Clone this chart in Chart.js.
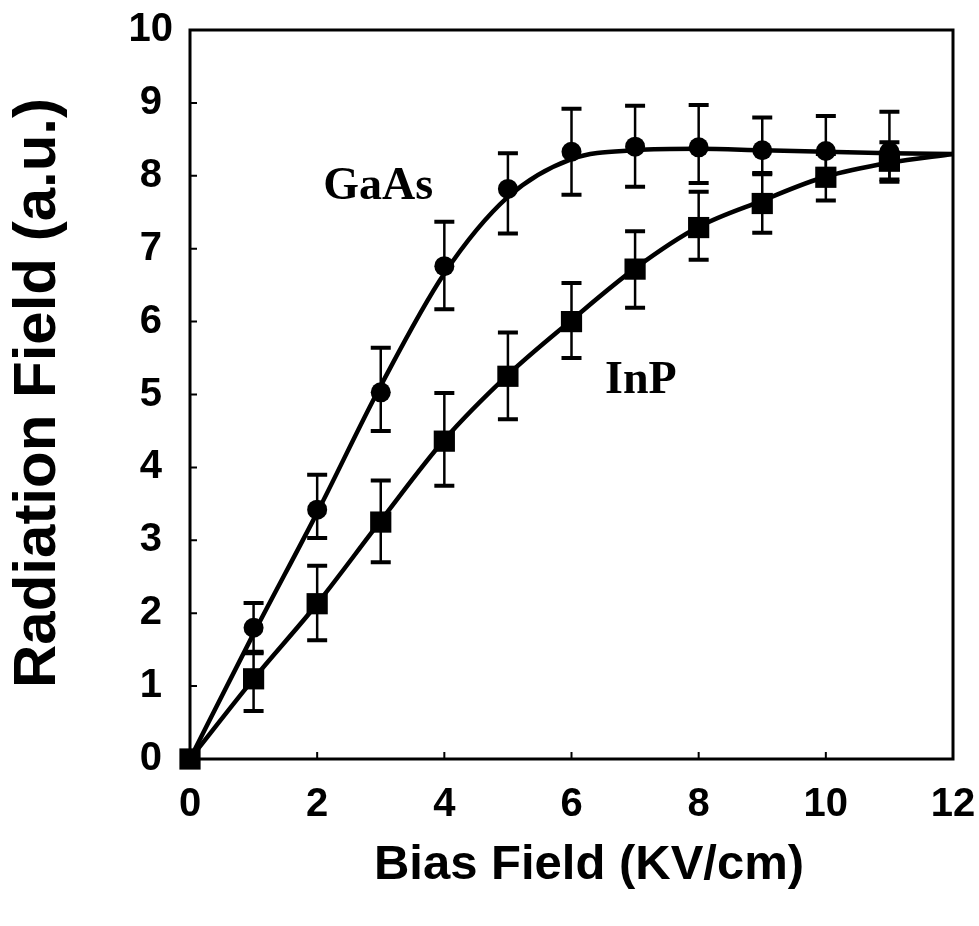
<!DOCTYPE html>
<html>
<head>
<meta charset="utf-8">
<script src="https://cdn.jsdelivr.net/npm/chart.js@4"></script>
<style>
  html, body { margin: 0; padding: 0; background: #fff; }
  #wrap { width: 979px; height: 926px; }
</style>
</head>
<body>
<div id="wrap"><canvas id="myChart"></canvas></div>
<script>
  // measured points (bias field, KV/cm)
  const biasX = [0, 1, 2, 3, 4, 5, 6, 7, 8, 9, 10, 11];

  const gaasY  = [0, 1.80, 3.42, 5.03, 6.76, 7.82, 8.33, 8.40, 8.39, 8.35, 8.34, 8.33];
  const gaasHi = [null, 2.14, 3.90, 5.64, 7.37, 8.31, 8.92, 8.96, 8.97, 8.80, 8.82, 8.88];
  const gaasLo = [null, 1.45, 3.03, 4.50, 6.17, 7.21, 7.74, 7.85, 7.90, 8.04, 7.98, 7.92];

  const inpY  = [0, 1.10, 2.13, 3.25, 4.36, 5.25, 6.00, 6.72, 7.29, 7.62, 7.98, 8.20];
  const inpHi = [null, 1.47, 2.65, 3.82, 5.02, 5.85, 6.53, 7.24, 7.78, 8.02, 8.30, 8.46];
  const inpLo = [null, 0.66, 1.63, 2.70, 3.75, 4.66, 5.50, 6.19, 6.85, 7.22, 7.66, 7.95];

  // fitted curves
  const fitX    = [0, 1, 2, 3, 4, 5, 6, 7, 8, 9, 10, 11, 12];
  const gaasFit = [0, 1.72, 3.38, 5.12, 6.66, 7.71, 8.23, 8.35, 8.37, 8.35, 8.33, 8.31, 8.30];
  const inpFit  = [0, 1.10, 2.13, 3.27, 4.38, 5.27, 6.02, 6.73, 7.30, 7.66, 7.99, 8.18, 8.30];

  const xTicks = [0, 2, 4, 6, 8, 10, 12];
  const yTicks = [0, 1, 2, 3, 4, 5, 6, 7, 8, 9, 10];

  const curveLabels = [
    { text: 'GaAs', x: 2.96, y: 7.85 },
    { text: 'InP', x: 7.09, y: 5.19 }
  ];
  const xTitle = 'Bias Field (KV/cm)';
  const yTitle = 'Radiation Field (a.u.)';

  const sans = '"Liberation Sans", Arial, sans-serif';
  const pts = (xs, ys) => xs.map((x, i) => ({ x: x, y: ys[i] }));

  const errorBars = {
    id: 'errorBars',
    afterDatasetsDraw(chart) {
      const { ctx, scales: { x, y } } = chart;
      ctx.save();
      ctx.strokeStyle = '#000';
      const sets = [[gaasHi, gaasLo], [inpHi, inpLo]];
      sets.forEach(([hi, lo]) => {
        biasX.forEach((bx, i) => {
          if (hi[i] == null) return;
          const px = x.getPixelForValue(bx);
          const yh = y.getPixelForValue(hi[i]);
          const yl = y.getPixelForValue(lo[i]);
          ctx.lineWidth = 2.5;
          ctx.beginPath();
          ctx.moveTo(px, yh); ctx.lineTo(px, yl);
          ctx.stroke();
          ctx.lineWidth = 4;
          ctx.beginPath();
          ctx.moveTo(px - 10, yh); ctx.lineTo(px + 10, yh);
          ctx.moveTo(px - 10, yl); ctx.lineTo(px + 10, yl);
          ctx.stroke();
        });
      });
      ctx.restore();
    }
  };

  const frameAndText = {
    id: 'frameAndText',
    afterDraw(chart) {
      const { ctx, chartArea: a, scales: { x, y } } = chart;
      ctx.save();
      ctx.strokeStyle = '#000';
      ctx.lineWidth = 3;
      ctx.strokeRect(a.left, a.top, a.right - a.left, a.bottom - a.top);
      // inward ticks
      ctx.lineWidth = 2;
      ctx.beginPath();
      yTicks.slice(1, -1).forEach(v => {
        const py = y.getPixelForValue(v);
        ctx.moveTo(a.left, py); ctx.lineTo(a.left + 7, py);
      });
      xTicks.slice(1, -1).forEach(v => {
        const px = x.getPixelForValue(v);
        ctx.moveTo(px, a.bottom); ctx.lineTo(px, a.bottom - 7);
      });
      ctx.stroke();
      ctx.fillStyle = '#000';
      ctx.textAlign = 'center';
      ctx.textBaseline = 'middle';
      ctx.font = 'bold 46px "Liberation Serif", "Times New Roman", serif';
      curveLabels.forEach(l => {
        ctx.fillText(l.text, x.getPixelForValue(l.x), y.getPixelForValue(l.y));
      });
      // axis titles
      ctx.font = 'bold 49px ' + sans;
      ctx.fillText(xTitle, 589, 865);
      ctx.translate(38, 393);
      ctx.rotate(-Math.PI / 2);
      ctx.font = 'bold 60px ' + sans;
      ctx.fillText(yTitle, 0, 0);
      ctx.restore();
    }
  };

  const data1 = {
    datasets: [
      {
        label: 'GaAs fit',
        data: pts(fitX, gaasFit),
        borderColor: '#000',
        borderWidth: 4.5,
        pointRadius: 0,
        cubicInterpolationMode: 'monotone'
      },
      {
        label: 'InP fit',
        data: pts(fitX, inpFit),
        borderColor: '#000',
        borderWidth: 4.5,
        pointRadius: 0,
        cubicInterpolationMode: 'monotone'
      },
      {
        label: 'GaAs',
        data: pts(biasX, gaasY),
        showLine: false,
        pointStyle: 'circle',
        pointRadius: 10,
        backgroundColor: '#000',
        borderColor: '#000',
        borderWidth: 0
      },
      {
        label: 'InP',
        data: pts(biasX, inpY),
        showLine: false,
        pointStyle: 'rect',
        pointRadius: 15,
        backgroundColor: '#000',
        borderColor: '#000',
        borderWidth: 0
      }
    ]
  };

  const config = {
    type: 'line',
    data: data1,
    plugins: [errorBars, frameAndText],
    options: {
      responsive: true,
      maintainAspectRatio: false,
      animation: false,
      clip: false,
      layout: { padding: { top: 30, right: 26, left: 0, bottom: 0 } },
      plugins: { legend: { display: false }, tooltip: { enabled: false } },
      scales: {
        x: {
          type: 'linear',
          min: 0, max: 12,
          afterBuildTicks: s => { s.ticks = xTicks.map(v => ({ value: v })); },
          afterFit: s => { s.height = 167; s.paddingLeft = 0; s.paddingRight = 0; },
          grid: { display: false, drawTicks: false },
          border: { display: false },
          ticks: {
            color: '#000',
            padding: 22,
            maxRotation: 0,
            font: { family: sans, size: 40, weight: 'bold' }
          }
        },
        y: {
          type: 'linear',
          min: 0, max: 10,
          afterBuildTicks: s => { s.ticks = yTicks.map(v => ({ value: v })); },
          afterFit: s => { s.width = 190; s.paddingTop = 0; s.paddingBottom = 0; },
          grid: { display: false, drawTicks: false },
          border: { display: false },
          ticks: {
            color: '#000',
            padding: 17,
            crossAlign: 'center',
            font: { family: sans, size: 40, weight: 'bold' }
          }
        }
      }
    }
  };

  const myChart = new Chart(
    document.getElementById('myChart'),
    config
  );
</script>
</body>
</html>
